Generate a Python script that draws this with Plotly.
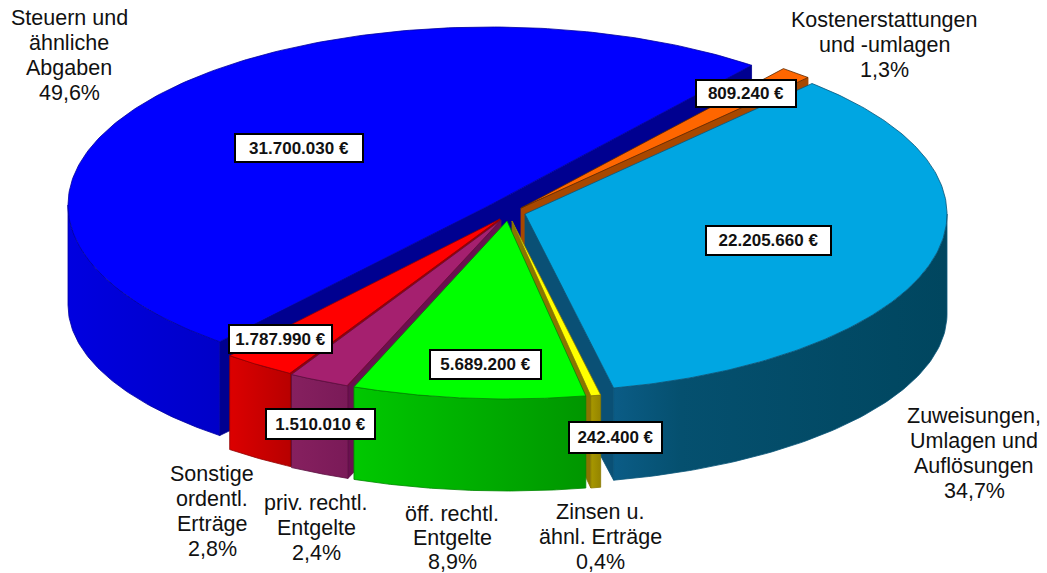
import numpy as np
import plotly.graph_objects as go

# ---- data (clockwise, starting after the blue slice) ----
categories = ["Kostenerstattungen\nund -umlagen",
              "Zuweisungen,\nUmlagen und\nAuflösungen",
              "Zinsen u.\nähnl. Erträge",
              "öff. rechtl.\nEntgelte",
              "priv. rechtl.\nEntgelte",
              "Sonstige\nordentl.\nErträge",
              "Steuern und\nähnliche\nAbgaben"]
values = [809240, 22205660, 242400, 5689200, 1510010, 1787990, 31700030]

# ---- styling / layout ----
top_colors = ["#ff6600", "#00a6e2", "#ffff00", "#00ff00", "#a5206f", "#ff0000", "#0000ff"]
edge_colors = ["#5a2800", "#0a5578", "#8a7a00", "#008800", "#5a1040", "#900000", "#0000a0"]
side_grad = [[(0, "#a84800"), (1, "#a84800")],
             [(0, "#0b5c86"), (0.2, "#05506f"), (1, "#00465f")],
             [(0, "#a89800"), (1, "#948400")],
             [(0, "#00c800"), (1, "#009600")],
             [(0, "#86205f"), (1, "#7a1a58")],
             [(0, "#dc0000"), (1, "#b80000")],
             [(0, "#0000e0"), (1, "#0000c8")]]
cut_colors = ["#a84800", "#0a5075", "#8a7400", "#007000", "#6a1050", "#a00000", "#000090"]
explode_dx = [16, 20, 7, 2, -4, -5, -15]
explode_dy = [-2, 4, 11, 11, 10, 9, -5]
draw_order = [6, 5, 4, 0, 1, 2, 3]
box_cx = [746, 768, 615, 485, 320, 280, 299]
box_cy = [93, 240, 437, 364, 424, 339, 148]
box_w = [98, 123, 91, 109, 107, 101, 126]
box_h = [25, 27, 29, 27, 28, 26, 26]
label_cx = [884, 974, 600, 452, 316, 212, 69]
label_y0 = [20, 416, 512, 514, 503, 474, 18]
line_h = [25, 25, 25, 24, 25, 25, 25]
CX, CY, A, B = 505, 210, 422, 178
WALL_DROP, BOTTOM_B = 100, 170   # lower rim: shifted down and slightly flatter
START = 38.3
LABEL_FONT = "Liberation Sans, Arial, sans-serif"

total = sum(values)
sweeps = [360 * v / total for v in values]
starts = START + np.concatenate([[0], np.cumsum(sweeps)[:-1]])
ends = starts + np.array(sweeps)


def pt(theta, cx, cy):
    t = np.radians(theta)
    return cx + A * np.sin(t), cy - B * np.cos(t)


def pt_low(theta, cx, cy):
    t = np.radians(theta)
    return cx + A * np.sin(t), cy + WALL_DROP - BOTTOM_B * np.cos(t)


fig = go.Figure()


def poly(xs, ys, color, line=None, grad=None):
    kw = dict(x=list(xs), y=list(ys), mode="lines", fill="toself", showlegend=False, hoverinfo="skip",
              line=dict(color=line or color, width=0.8))
    if grad:
        kw["fillgradient"] = dict(type="horizontal", colorscale=[list(g) for g in grad])
    else:
        kw["fillcolor"] = color
    fig.add_trace(go.Scatter(**kw))


for i in draw_order:
    s, e = starts[i], ends[i]
    cx, cy = CX + explode_dx[i], CY + explode_dy[i]
    # cut faces that turn toward the viewer
    faces = []
    if np.sin(np.radians(e)) > 0:
        faces.append(e)
    if np.sin(np.radians(s)) < 0:
        faces.append(s)
    for th in faces:
        x1, y1 = pt(th, cx, cy)
        x2, y2 = pt_low(th, cx, cy)
        poly([cx, x1, x2, cx, cx], [cy, y1, y2, cy + WALL_DROP, cy], cut_colors[i], line=cut_colors[i])
    # outer wall (front half only)
    for a0, a1 in [(90, 270), (450, 630)]:
        lo, hi = max(s, a0), min(e, a1)
        if hi > lo:
            th = np.linspace(lo, hi, 80)
            x, y = pt(th, cx, cy)
            xl, yl = pt_low(th, cx, cy)
            poly(np.r_[x, xl[::-1], x[0]], np.r_[y, yl[::-1], y[0]], side_grad[i][0][1],
                 line=edge_colors[i], grad=side_grad[i])
    # top surface
    th = np.linspace(s, e, 200)
    x, y = pt(th, cx, cy)
    poly(np.r_[cx, x, cx], np.r_[cy, y, cy], top_colors[i], line=edge_colors[i])

annotations = []
for i, cat in enumerate(categories):
    pct = f"{100 * values[i] / total:.1f}%".replace(".", ",")
    for k, line in enumerate(cat.split("\n") + [pct]):
        annotations.append(dict(x=label_cx[i], y=label_y0[i] + k * line_h[i], text=line, showarrow=False,
                                xref="x", yref="y", xanchor="center", yanchor="middle",
                                font=dict(family=LABEL_FONT, size=21.5, color="#111111")))
    annotations.append(dict(x=box_cx[i], y=box_cy[i], text=f"{values[i]:,}".replace(",", ".") + " €",
                            showarrow=False, xref="x", yref="y", xanchor="center", yanchor="middle",
                            width=box_w[i], height=box_h[i], align="center", valign="middle",
                            bgcolor="white", bordercolor="black", borderwidth=2, borderpad=0,
                            font=dict(family=LABEL_FONT, size=17, color="#111111", weight="bold")))

fig.update_layout(width=1047, height=573, margin=dict(l=0, r=0, t=0, b=0), paper_bgcolor="white",
                  plot_bgcolor="white", showlegend=False, annotations=annotations,
                  xaxis=dict(range=[0, 1047], visible=False, fixedrange=True),
                  yaxis=dict(range=[573, 0], visible=False, fixedrange=True))
fig.write_html("out.html", config={"displayModeBar": False},
               post_script="document.body.style.margin='0';document.body.style.overflow='hidden';")
